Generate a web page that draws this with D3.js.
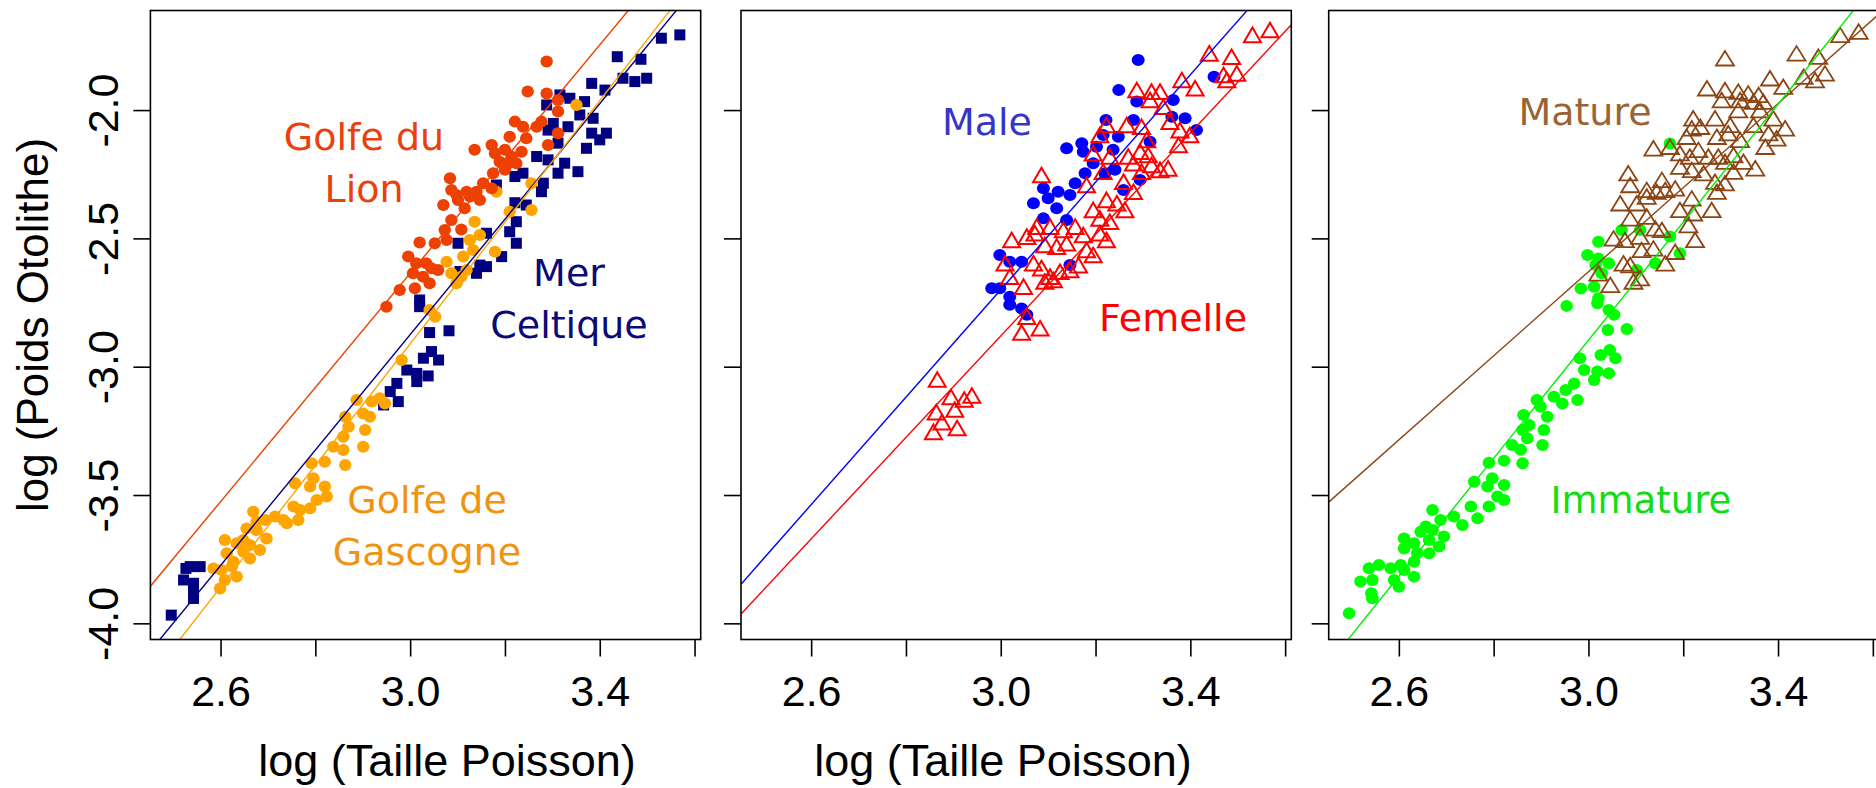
<!DOCTYPE html>
<html>
<head>
<meta charset="utf-8">
<script src="https://cdn.jsdelivr.net/npm/d3@7"></script>
<style>
body{margin:0;background:#fff;}
svg{display:block;}
</style>
</head>
<body>
<script>
// ---- données : log(taille), log(poids otolithe) ----
var lion = [[3.288,-1.811],[3.248,-1.928],[3.288,-1.935],[3.312,-1.961],[3.312,-2.006],[3.221,-2.045],[3.238,-2.065],[3.267,-2.065],[3.277,-2.045],[3.312,-2.090],[3.210,-2.104],[3.245,-2.110],[3.291,-2.136],[3.136,-2.155],[3.172,-2.136],[3.179,-2.168],[3.200,-2.155],[3.214,-2.181],[3.235,-2.162],[3.189,-2.201],[3.207,-2.207],[3.224,-2.207],[3.175,-2.246],[3.200,-2.233],[3.084,-2.266],[3.154,-2.285],[3.087,-2.311],[3.119,-2.318],[3.140,-2.318],[3.172,-2.305],[3.101,-2.350],[3.147,-2.350],[3.070,-2.370],[3.115,-2.383],[3.087,-2.428],[3.073,-2.467],[3.108,-2.465],[3.020,-2.516],[3.052,-2.519],[3.077,-2.506],[2.996,-2.571],[3.013,-2.597],[3.034,-2.597],[3.045,-2.616],[3.006,-2.636],[3.027,-2.649],[3.059,-2.623],[3.041,-2.675],[2.978,-2.701],[3.010,-2.694],[2.950,-2.766],[3.126,-2.337],[3.098,-2.331]];

var gascogne = [[3.351,-1.980],[3.256,-2.285],[3.256,-2.389],[3.210,-2.396],[3.182,-2.318],[3.136,-2.435],[3.147,-2.487],[3.126,-2.506],[3.112,-2.571],[3.133,-2.545],[3.179,-2.552],[3.077,-2.591],[3.087,-2.636],[3.108,-2.649],[3.119,-2.623],[3.098,-2.675],[3.041,-2.779],[3.053,-2.805],[2.982,-2.974],[2.887,-3.130],[2.919,-3.136],[2.936,-3.123],[2.947,-3.143],[2.901,-3.182],[2.915,-3.195],[2.863,-3.195],[2.870,-3.234],[2.859,-3.273],[2.905,-3.247],[2.838,-3.312],[2.859,-3.325],[2.901,-3.312],[2.820,-3.370],[2.863,-3.383],[2.792,-3.376],[2.796,-3.435],[2.757,-3.454],[2.789,-3.467],[2.820,-3.467],[2.824,-3.506],[2.803,-3.519],[2.789,-3.552],[2.768,-3.558],[2.754,-3.545],[2.669,-3.565],[2.715,-3.584],[2.740,-3.610],[2.764,-3.597],[2.694,-3.597],[2.655,-3.630],[2.676,-3.636],[2.697,-3.669],[2.609,-3.675],[2.634,-3.688],[2.662,-3.695],[2.683,-3.714],[2.648,-3.721],[2.662,-3.747],[2.613,-3.727],[2.627,-3.760],[2.585,-3.786],[2.602,-3.792],[2.624,-3.779],[2.634,-3.818],[2.609,-3.831],[2.599,-3.864],[2.648,-3.675],[2.676,-3.604],[2.733,-3.597]];

var celtique = [[3.569,-1.707],[3.530,-1.720],[3.437,-1.792],[3.487,-1.802],[3.499,-1.876],[3.474,-1.889],[3.449,-1.876],[3.383,-1.896],[3.411,-1.922],[3.316,-1.941],[3.288,-1.980],[3.337,-1.954],[3.368,-1.967],[3.358,-2.019],[3.386,-2.032],[3.302,-2.052],[3.333,-2.065],[3.291,-2.078],[3.383,-2.090],[3.414,-2.090],[3.400,-2.116],[3.372,-2.149],[3.312,-2.129],[3.267,-2.181],[3.291,-2.194],[3.326,-2.207],[3.354,-2.240],[3.312,-2.246],[3.238,-2.246],[3.221,-2.259],[3.281,-2.285],[3.277,-2.318],[3.221,-2.361],[3.245,-2.370],[3.224,-2.435],[3.210,-2.474],[3.224,-2.519],[3.161,-2.480],[3.101,-2.519],[3.193,-2.571],[3.147,-2.604],[3.161,-2.610],[3.140,-2.636],[3.105,-2.629],[3.182,-2.292],[3.020,-2.740],[3.020,-2.766],[3.041,-2.867],[3.082,-2.860],[3.028,-2.967],[3.045,-2.941],[3.060,-2.974],[2.993,-3.013],[3.014,-3.026],[3.038,-3.036],[3.014,-3.058],[2.972,-3.065],[2.958,-3.097],[2.975,-3.136],[2.944,-3.149],[2.536,-3.779],[2.557,-3.779],[2.522,-3.831],[2.543,-3.844],[2.543,-3.877],[2.543,-3.903],[2.496,-3.968],[2.527,-3.786]];

var male = [[3.290,-1.805],[3.249,-1.922],[3.287,-1.967],[3.280,-2.039],[3.222,-2.039],[3.450,-1.870],[3.364,-1.961],[3.361,-2.026],[3.389,-2.032],[3.413,-2.078],[3.139,-2.149],[3.171,-2.129],[3.174,-2.162],[3.202,-2.143],[3.216,-2.097],[3.237,-2.155],[3.248,-2.104],[3.195,-2.207],[3.178,-2.246],[3.220,-2.246],[3.241,-2.233],[3.090,-2.305],[3.121,-2.318],[3.146,-2.331],[3.157,-2.285],[3.100,-2.344],[3.069,-2.363],[3.118,-2.383],[3.090,-2.422],[3.139,-2.428],[3.315,-2.123],[3.294,-2.272],[3.259,-2.311],[2.998,-2.565],[3.019,-2.591],[3.044,-2.591],[2.981,-2.694],[2.998,-2.694],[3.019,-2.727],[3.019,-2.759],[3.044,-2.773],[3.055,-2.798],[3.146,-2.604]];

var femelle = [[3.568,-1.688],[3.531,-1.707],[3.440,-1.779],[3.487,-1.792],[3.470,-1.863],[3.498,-1.857],[3.477,-1.883],[3.382,-1.883],[3.410,-1.915],[3.287,-1.922],[3.318,-1.928],[3.336,-1.928],[3.315,-1.961],[3.343,-1.987],[3.357,-2.045],[3.378,-2.078],[3.399,-2.097],[3.223,-2.058],[3.266,-2.058],[3.297,-2.065],[3.209,-2.097],[3.308,-2.116],[3.375,-2.136],[3.195,-2.168],[3.230,-2.181],[3.269,-2.181],[3.294,-2.162],[3.311,-2.175],[3.280,-2.207],[3.318,-2.214],[3.336,-2.233],[3.353,-2.227],[3.216,-2.240],[3.297,-2.240],[3.086,-2.253],[3.181,-2.292],[3.259,-2.279],[3.280,-2.318],[3.195,-2.389],[3.223,-2.350],[3.245,-2.363],[3.262,-2.389],[3.209,-2.422],[3.230,-2.435],[3.076,-2.454],[3.104,-2.454],[3.132,-2.467],[3.157,-2.454],[3.174,-2.487],[3.209,-2.480],[3.223,-2.506],[3.023,-2.506],[3.055,-2.493],[3.072,-2.480],[3.093,-2.526],[3.118,-2.532],[3.139,-2.519],[3.181,-2.545],[3.195,-2.565],[3.009,-2.597],[3.069,-2.597],[3.086,-2.616],[3.104,-2.649],[3.125,-2.630],[3.146,-2.623],[3.164,-2.604],[3.093,-2.668],[3.111,-2.662],[3.019,-2.649],[3.048,-2.688],[3.055,-2.805],[3.083,-2.850],[3.044,-2.867],[2.866,-3.050],[2.864,-3.177],[2.895,-3.118],[2.923,-3.128],[2.939,-3.112],[2.903,-3.167],[2.876,-3.216],[2.858,-3.254],[2.908,-3.239]];

var mature = [[3.570,-1.694],[3.531,-1.707],[3.288,-1.798],[3.439,-1.779],[3.485,-1.792],[3.499,-1.857],[3.478,-1.883],[3.454,-1.870],[3.383,-1.876],[3.411,-1.909],[3.250,-1.915],[3.288,-1.922],[3.316,-1.928],[3.337,-1.935],[3.359,-1.941],[3.281,-1.961],[3.320,-1.961],[3.348,-1.967],[3.369,-1.967],[3.362,-2.000],[3.316,-2.000],[3.390,-2.032],[3.415,-2.071],[3.221,-2.032],[3.267,-2.032],[3.299,-2.058],[3.348,-2.058],[3.380,-2.090],[3.397,-2.110],[3.373,-2.143],[3.137,-2.149],[3.172,-2.143],[3.207,-2.104],[3.236,-2.065],[3.218,-2.071],[3.271,-2.104],[3.295,-2.090],[3.320,-2.116],[3.193,-2.168],[3.214,-2.181],[3.232,-2.155],[3.253,-2.181],[3.274,-2.181],[3.306,-2.175],[3.288,-2.201],[3.327,-2.201],[3.352,-2.227],[3.306,-2.240],[3.193,-2.220],[3.218,-2.233],[3.243,-2.246],[3.084,-2.246],[3.088,-2.292],[3.123,-2.311],[3.144,-2.318],[3.162,-2.311],[3.183,-2.305],[3.155,-2.272],[3.067,-2.363],[3.102,-2.363],[3.123,-2.337],[3.267,-2.279],[3.288,-2.285],[3.271,-2.318],[3.218,-2.344],[3.193,-2.389],[3.221,-2.402],[3.260,-2.389],[3.088,-2.422],[3.123,-2.415],[3.141,-2.461],[3.211,-2.448],[3.225,-2.506],[3.053,-2.500],[3.077,-2.506],[3.109,-2.493],[3.155,-2.467],[3.112,-2.545],[3.137,-2.539],[3.074,-2.597],[3.088,-2.604],[3.162,-2.597],[3.183,-2.552],[3.021,-2.636],[3.046,-2.681],[3.095,-2.668],[3.109,-2.655]];

var immature = [[2.998,-2.565],[3.015,-2.604],[3.043,-2.597],[2.984,-2.695],[3.012,-2.688],[2.954,-2.763],[3.019,-2.753],[3.043,-2.779],[3.054,-2.798],[3.041,-2.857],[3.081,-2.853],[3.026,-2.954],[3.045,-2.935],[3.057,-2.967],[2.982,-2.967],[2.991,-3.013],[3.019,-3.019],[3.043,-3.026],[3.012,-3.052],[2.970,-3.065],[2.952,-3.091],[2.977,-3.130],[2.945,-3.143],[2.927,-3.117],[2.891,-3.130],[2.913,-3.195],[2.899,-3.156],[2.863,-3.188],[2.875,-3.227],[2.861,-3.247],[2.906,-3.247],[2.871,-3.279],[2.839,-3.305],[2.857,-3.324],[2.903,-3.305],[2.861,-3.376],[2.822,-3.366],[2.790,-3.374],[2.759,-3.448],[2.797,-3.435],[2.787,-3.467],[2.822,-3.461],[2.808,-3.506],[2.822,-3.519],[2.790,-3.545],[2.752,-3.545],[2.766,-3.591],[2.716,-3.584],[2.734,-3.617],[2.671,-3.558],[2.688,-3.597],[2.657,-3.623],[2.671,-3.636],[2.695,-3.662],[2.611,-3.669],[2.632,-3.688],[2.664,-3.675],[2.685,-3.701],[2.611,-3.708],[2.639,-3.727],[2.664,-3.727],[2.604,-3.773],[2.632,-3.760],[2.558,-3.773],[2.537,-3.785],[2.583,-3.785],[2.611,-3.792],[2.519,-3.837],[2.544,-3.831],[2.632,-3.818],[2.600,-3.857],[2.542,-3.883],[2.544,-3.902],[2.495,-3.961],[2.590,-3.831],[2.646,-3.643],[3.172,-2.130],[3.021,-2.513],[3.070,-2.467],[3.109,-2.467],[3.172,-2.493],[3.193,-2.558],[3.141,-2.597],[3.102,-2.623],[3.028,-2.636],[3.021,-2.578],[3.021,-2.733]];

// droites de régression : [ordonnée à l'origine, pente]
var lionFit = [-9.311, 2.225];
var celtiqueFit = [-9.622, 2.249];
var gascogneFit = [-10.021, 2.370];
var maleFit = [-8.982, 2.094];
var femelleFit = [-8.814, 1.978];
var matureFit = [-7.544, 1.638];
var immatureFit = [-9.794, 2.299];

var xDomain = [2.452, 3.613];
var yDomain = [-4.063, -1.612];
var xTicks = [2.6, 2.8, 3.0, 3.2, 3.4, 3.6];
var xTickLabels = ["2.6", "", "3.0", "", "3.4", ""];
var yTicks = [-4.0, -3.5, -3.0, -2.5, -2.0];
var yTickLabels = ["-4.0", "-3.5", "-3.0", "-2.5", "-2.0"];

// ---- mise en page ----
var W = 1876, H = 788;
var panelLeft = [150.4, 741, 1328.7];
var panelTop = 10.5, panelW = 550.3, panelH = 629;
var tickFont = "'Liberation Sans', Arial, sans-serif";
var labelFont = "'DejaVu Sans', Verdana, sans-serif";

var svg = d3.select("body").append("svg").attr("width", W).attr("height", H);

var x = d3.scaleLinear().domain(xDomain).range([0, panelW]);
var y = d3.scaleLinear().domain(yDomain).range([panelH, 0]);

function triPath(w, h){
	return "M0," + (-h/2) + "L" + (w/2) + "," + (h/2) + "L" + (-w/2) + "," + (h/2) + "Z";
}

function drawPanel(idx, groups, fits, labels, withYLabels, xTitleX){
	var g = svg.append("g").attr("transform", "translate(" + panelLeft[idx] + "," + panelTop + ")");

	g.append("clipPath").attr("id", "clip" + idx)
		.append("rect").attr("width", panelW).attr("height", panelH);
	var inner = g.append("g").attr("clip-path", "url(#clip" + idx + ")");

	// points
	groups.forEach(function(gr){
		var sel = inner.append("g").selectAll(".pt").data(gr.data).enter();
		if(gr.shape == "circle"){
			sel.append("ellipse")
				.attr("cx", function(d){return x(d[0]);})
				.attr("cy", function(d){return y(d[1]);})
				.attr("rx", gr.rx).attr("ry", gr.ry)
				.attr("fill", gr.color);
		}else if(gr.shape == "square"){
			sel.append("rect")
				.attr("x", function(d){return x(d[0]) - gr.size/2;})
				.attr("y", function(d){return y(d[1]) - gr.size/2;})
				.attr("width", gr.size).attr("height", gr.size)
				.attr("fill", gr.color);
		}else{
			sel.append("path")
				.attr("d", triPath(gr.w, gr.h))
				.attr("transform", function(d){return "translate(" + x(d[0]) + "," + y(d[1]) + ")";})
				.attr("fill", "none").attr("stroke", gr.color).attr("stroke-width", gr.sw);
		}
	});

	// droites
	fits.forEach(function(f){
		var a = f.fit[0], b = f.fit[1];
		inner.append("line")
			.attr("x1", x(xDomain[0])).attr("y1", y(a + b*xDomain[0]))
			.attr("x2", x(xDomain[1])).attr("y2", y(a + b*xDomain[1]))
			.attr("stroke", f.color).attr("stroke-width", 1.4);
	});

	// cadre
	g.append("rect").attr("width", panelW).attr("height", panelH)
		.attr("fill", "none").attr("stroke", "#000").attr("stroke-width", 1.6);

	// axes
	var xAxis = d3.axisBottom(x).tickValues(xTicks).tickSize(17).tickPadding(19)
		.tickFormat(function(d, i){return xTickLabels[i];});
	var gx = g.append("g").attr("transform", "translate(0," + panelH + ")").call(xAxis);
	gx.select(".domain").remove();
	gx.attr("font-size", 43).attr("font-family", tickFont);
	gx.selectAll("line").attr("stroke", "#000").attr("stroke-width", 1.6);
	gx.selectAll("text").attr("fill", "#000");

	var yAxis = d3.axisLeft(y).tickValues(yTicks).tickSize(17)
		.tickFormat(function(d, i){return withYLabels ? yTickLabels[i] : "";});
	var gy = g.append("g").call(yAxis);
	gy.select(".domain").remove();
	gy.attr("font-size", 43).attr("font-family", tickFont);
	gy.selectAll("line").attr("stroke", "#000").attr("stroke-width", 1.6);
	gy.selectAll("text").attr("fill", "#000")
		.attr("transform", "rotate(-90)")
		.attr("text-anchor", "middle")
		.attr("x", 0).attr("y", -32.4).attr("dy", 0);

	// étiquettes des groupes
	labels.forEach(function(l){
		l.lines.forEach(function(txt, k){
			svg.append("text")
				.attr("x", l.x).attr("y", l.y + k*52)
				.attr("text-anchor", "middle")
				.attr("font-family", labelFont).attr("font-size", l.size || 38)
				.attr("fill", l.color)
				.text(txt);
		});
	});

	if(xTitleX !== null){
		svg.append("text")
			.attr("x", xTitleX).attr("y", 776)
			.attr("text-anchor", "middle")
			.attr("font-family", tickFont).attr("font-size", 45)
			.text("log (Taille Poisson)");
	}
}

drawPanel(0,
	[{data: celtique, shape: "square", size: 11, color: "#000080"},
	 {data: gascogne, shape: "circle", rx: 6.2, ry: 6, color: "#ffa500"},
	 {data: lion, shape: "circle", rx: 6.2, ry: 6, color: "#ee4000"}],
	[{fit: lionFit, color: "#ee4000"},
	 {fit: celtiqueFit, color: "#000080"},
	 {fit: gascogneFit, color: "#ffa500"}],
	[{lines: ["Golfe du", "Lion"], x: 364, y: 150, color: "#ea400c"},
	 {lines: ["Mer", "Celtique"], x: 569, y: 286, color: "#0a0a78"},
	 {lines: ["Golfe de", "Gascogne"], x: 427, y: 513, color: "#ef9310"}],
	true, 447);

drawPanel(1,
	[{data: male, shape: "circle", rx: 6.5, ry: 6, color: "#0000ff"},
	 {data: femelle, shape: "triangle", w: 17, h: 14.6, sw: 2, color: "#ff0000"}],
	[{fit: maleFit, color: "#0000ff"},
	 {fit: femelleFit, color: "#ff0000"}],
	[{lines: ["Male"], x: 987, y: 135, color: "#3535c8"},
	 {lines: ["Femelle"], x: 1173, y: 331, color: "#ff0000"}],
	false, 1003);

drawPanel(2,
	[{data: immature, shape: "circle", rx: 6.3, ry: 6, color: "#00ff00"},
	 {data: mature, shape: "triangle", w: 18, h: 14.5, sw: 1.8, color: "#8b4513"}],
	[{fit: matureFit, color: "#8b4513"},
	 {fit: immatureFit, color: "#00ee00"}],
	[{lines: ["Mature"], x: 1585, y: 125, color: "#9a6535"},
	 {lines: ["Immature"], x: 1641, y: 513, color: "#11dd11", size: 37}],
	false, null);

// titre axe y
svg.append("text")
	.attr("transform", "translate(48,325) rotate(-90)")
	.attr("text-anchor", "middle")
	.attr("font-family", tickFont).attr("font-size", 44)
	.text("log (Poids Otolithe)");
</script>
</body>
</html>
